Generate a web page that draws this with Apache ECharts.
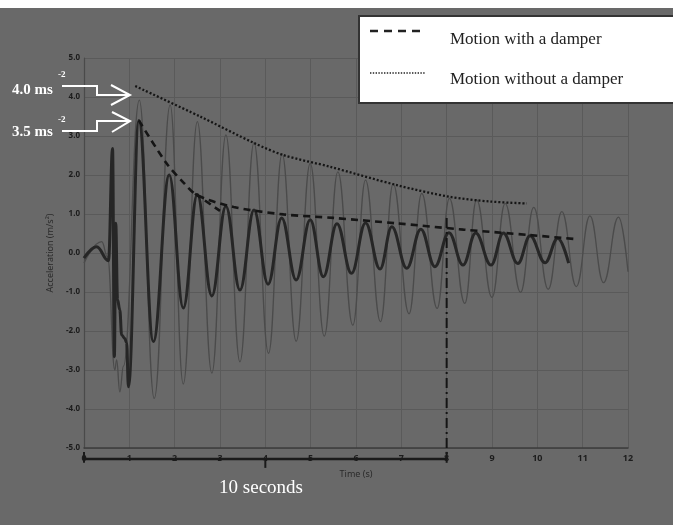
<!DOCTYPE html>
<html>
<head>
<meta charset="utf-8">
<script src="https://cdn.jsdelivr.net/npm/echarts@6/dist/echarts.min.js"></script>
<style>
  html, body { margin: 0; padding: 0; background: #696969; }
  #chart { width: 673px; height: 525px; }
</style>
</head>
<body>
<div id="chart"></div>
<script>
// time axis ticks and value axis ticks
var xTicks = [0, 1, 2, 3, 4, 5, 6, 7, 8, 9, 10, 11, 12];
var yTicks = [-5, -4, -3, -2, -1, 0, 1, 2, 3, 4, 5];

// motion with a damper (thick trace)
var dampT = [0, 0.28, 0.54, 0.63, 0.67, 0.70, 0.74, 0.79, 0.83, 0.90, 0.94, 0.98, 1.21, 1.53, 1.88, 2.19, 2.50, 2.82, 3.13, 3.44, 3.75, 4.06, 4.36, 4.68, 4.99, 5.28, 5.58, 5.90, 6.21, 6.53, 6.79, 7.12, 7.43, 7.74, 8.05, 8.36, 8.64, 8.98, 9.25, 9.57, 9.84, 10.17, 10.45, 10.69];
var dampA = [-0.13, 0.16, -0.2, 2.68, -2.66, 0.76, -1.2, -1.46, -2.1, -2.19, -2.3, -3.43, 3.4, -2.27, 2.0, -1.41, 1.5, -1.1, 1.2, -0.95, 1.1, -0.8, 0.9, -0.69, 0.85, -0.61, 0.75, -0.52, 0.77, -0.41, 0.67, -0.39, 0.61, -0.35, 0.52, -0.31, 0.51, -0.31, 0.51, -0.27, 0.44, -0.25, 0.38, -0.26];

// motion without a damper (thin trace)
var freeT = [0, 0.39, 0.52, 0.68, 0.72, 0.79, 0.87, 1.22, 1.55, 1.90, 2.19, 2.50, 2.82, 3.13, 3.44, 3.75, 4.07, 4.37, 4.68, 4.99, 5.30, 5.60, 5.93, 6.21, 6.54, 6.82, 7.17, 7.45, 7.79, 8.06, 8.40, 8.66, 9.00, 9.29, 9.63, 9.92, 10.24, 10.54, 10.86, 11.16, 11.46, 11.79, 12.0];
var freeA = [-0.26, 0.29, -0.1, -3.0, -2.74, -3.56, -2.9, 3.92, -3.73, 3.8, -3.36, 3.37, -3.08, 3.03, -2.79, 2.83, -2.57, 2.54, -2.26, 2.3, -2.13, 2.08, -1.85, 1.87, -1.76, 1.77, -1.56, 1.53, -1.42, 1.4, -1.29, 1.36, -1.14, 1.27, -1.01, 1.17, -0.93, 1.06, -0.86, 0.95, -0.76, 0.92, -0.48];

// hand drawn envelopes
var envDampT = [1.21, 1.82, 2.2, 2.5, 3.3, 4.4, 5.5, 6.9, 8.37, 9.84, 10.9];
var envDampA = [3.4, 2.3, 1.8, 1.48, 1.18, 0.99, 0.9, 0.76, 0.6, 0.46, 0.35];
var envBranchT = [2.45, 3.0];
var envBranchA = [1.52, 1.08];
var envFreeT = [1.13, 2.56, 3.77, 4.4, 5.43, 6.9, 8.07, 8.96, 9.77];
var envFreeA = [4.28, 3.5, 2.81, 2.51, 2.21, 1.74, 1.44, 1.32, 1.27];

// 10 seconds bracket and the 8 s marker
var markT = [8, 8];
var markA = [0.9, -5.28];
var bracketT = [0, 8];
var bracketA = [-5.28, -5.28];

function pairs(xs, ys) {
  var out = [];
  for (var i = 0; i < xs.length; i++) out.push([xs[i], ys[i]]);
  return out;
}

var chart = echarts.init(document.getElementById('chart'));
var ink = '#151515';

function tick(t, a0, a1) {
  return { type: 'line', data: [[t, a0], [t, a1]], symbol: 'none', clip: false,
    lineStyle: { color: '#1a1a1a', width: 2 } };
}

var option = {
  backgroundColor: '#696969',
  animation: false,
  grid: { left: 84, right: 45, top: 58, bottom: 77 },
  xAxis: {
    type: 'value', min: xTicks[0], max: xTicks[xTicks.length - 1], interval: 1,
    name: 'Time (s)', nameLocation: 'middle', nameGap: 22,
    nameTextStyle: { color: '#2a2a2a', fontSize: 9, fontFamily: 'Noto Sans' },
    axisLine: { onZero: false, lineStyle: { color: '#3c3c3c', width: 1.5 } },
    axisTick: { show: false },
    axisLabel: { color: '#1c1c1c', fontSize: 9, fontWeight: 'bold', fontFamily: 'Noto Sans', margin: 6 },
    splitLine: { lineStyle: { color: '#5a5a5a', width: 1 } }
  },
  yAxis: {
    type: 'value', min: yTicks[0], max: yTicks[yTicks.length - 1], interval: 1,
    name: 'Acceleration (m/s²)', nameLocation: 'middle', nameGap: 26,
    nameTextStyle: { color: '#2a2a2a', fontSize: 9, fontFamily: 'Noto Sans' },
    axisLine: { show: true, onZero: false, lineStyle: { color: '#4a4a4a', width: 1.2 } },
    axisTick: { show: false },
    axisLabel: { color: '#1c1c1c', fontSize: 8, fontWeight: 'bold', fontFamily: 'Noto Sans', margin: 4,
      formatter: function (v) { return v.toFixed(1); } },
    splitLine: { lineStyle: { color: '#5a5a5a', width: 1 } }
  },
  series: [
    { type: 'line', data: pairs(freeT, freeA), smooth: 0.45, smoothMonotone: 'x', symbol: 'none',
      lineStyle: { color: '#4b4b4b', width: 1.3 } },
    { type: 'line', data: pairs(dampT, dampA), smooth: 0.4, smoothMonotone: 'x', symbol: 'none',
      lineStyle: { color: '#262626', width: 3 } },
    { type: 'line', data: pairs(envDampT, envDampA), smooth: 0.3, symbol: 'none',
      lineStyle: { color: ink, width: 2.6, type: [7, 5] } },
    { type: 'line', data: pairs(envBranchT, envBranchA), symbol: 'none',
      lineStyle: { color: ink, width: 2.6, type: [7, 5] } },
    { type: 'line', data: pairs(envFreeT, envFreeA), smooth: 0.3, symbol: 'none',
      lineStyle: { color: ink, width: 2.3, type: [2, 2] } },
    { type: 'line', data: pairs(markT, markA), symbol: 'none', clip: false,
      lineStyle: { color: ink, width: 2, type: [10, 4, 2, 4] } },
    { type: 'line', data: pairs(bracketT, bracketA), symbol: 'none', clip: false,
      lineStyle: { color: '#1a1a1a', width: 2.5 } },
    tick(0, -5.1, -5.38),
    tick(8, -5.1, -5.38),
    tick(4, -5.28, -5.51)
  ],
  graphic: [
    { type: 'rect', z: 100, shape: { x: 0, y: 0, width: 673, height: 8 }, style: { fill: '#fff' }, silent: true },
    { type: 'rect', z: 100, shape: { x: 359, y: 16, width: 320, height: 87 },
      style: { fill: '#fff', stroke: '#333', lineWidth: 2 } },
    { type: 'line', z: 101, shape: { x1: 370, y1: 31, x2: 420, y2: 31 },
      style: { stroke: '#222', lineWidth: 2.5, lineDash: [8, 6] } },
    { type: 'line', z: 101, shape: { x1: 370, y1: 73, x2: 425, y2: 73 },
      style: { stroke: '#222', lineWidth: 1.5, lineDash: [1.4, 1.4] } },
    { type: 'text', z: 101, x: 450, y: 40, style: { text: 'Motion with a damper', fill: '#222',
      font: '17px "Liberation Serif"', verticalAlign: 'middle' } },
    { type: 'text', z: 101, x: 450, y: 80, style: { text: 'Motion without a damper', fill: '#222',
      font: '17px "Liberation Serif"', verticalAlign: 'middle' } },
    // peak annotations
    { type: 'text', z: 101, x: 12, y: 90, style: { text: '4.0 ms', fill: '#fff',
      font: 'bold 15px "Liberation Serif"', verticalAlign: 'middle' } },
    { type: 'text', z: 101, x: 58, y: 75, style: { text: '-2', fill: '#fff',
      font: 'bold 9px "Liberation Serif"', verticalAlign: 'middle' } },
    { type: 'polyline', z: 101, shape: { points: [[62, 86], [97, 86], [97, 95], [128, 95]] },
      style: { stroke: '#fff', lineWidth: 2, fill: null } },
    { type: 'polyline', z: 101, shape: { points: [[111, 85], [130, 95], [111, 105]] },
      style: { stroke: '#fff', lineWidth: 2, fill: null } },
    { type: 'text', z: 101, x: 12, y: 132, style: { text: '3.5 ms', fill: '#fff',
      font: 'bold 15px "Liberation Serif"', verticalAlign: 'middle' } },
    { type: 'text', z: 101, x: 58, y: 120, style: { text: '-2', fill: '#fff',
      font: 'bold 9px "Liberation Serif"', verticalAlign: 'middle' } },
    { type: 'polyline', z: 101, shape: { points: [[62, 131], [97, 131], [97, 121], [128, 121]] },
      style: { stroke: '#fff', lineWidth: 2, fill: null } },
    { type: 'polyline', z: 101, shape: { points: [[112, 112], [130, 121], [112, 132]] },
      style: { stroke: '#fff', lineWidth: 2, fill: null } },
    { type: 'text', z: 101, x: 261, y: 488, style: { text: '10 seconds', fill: '#fff',
      font: '19px "Liberation Serif"', align: 'center', verticalAlign: 'middle' } }
  ]
};

chart.setOption(option);
</script>
</body>
</html>
